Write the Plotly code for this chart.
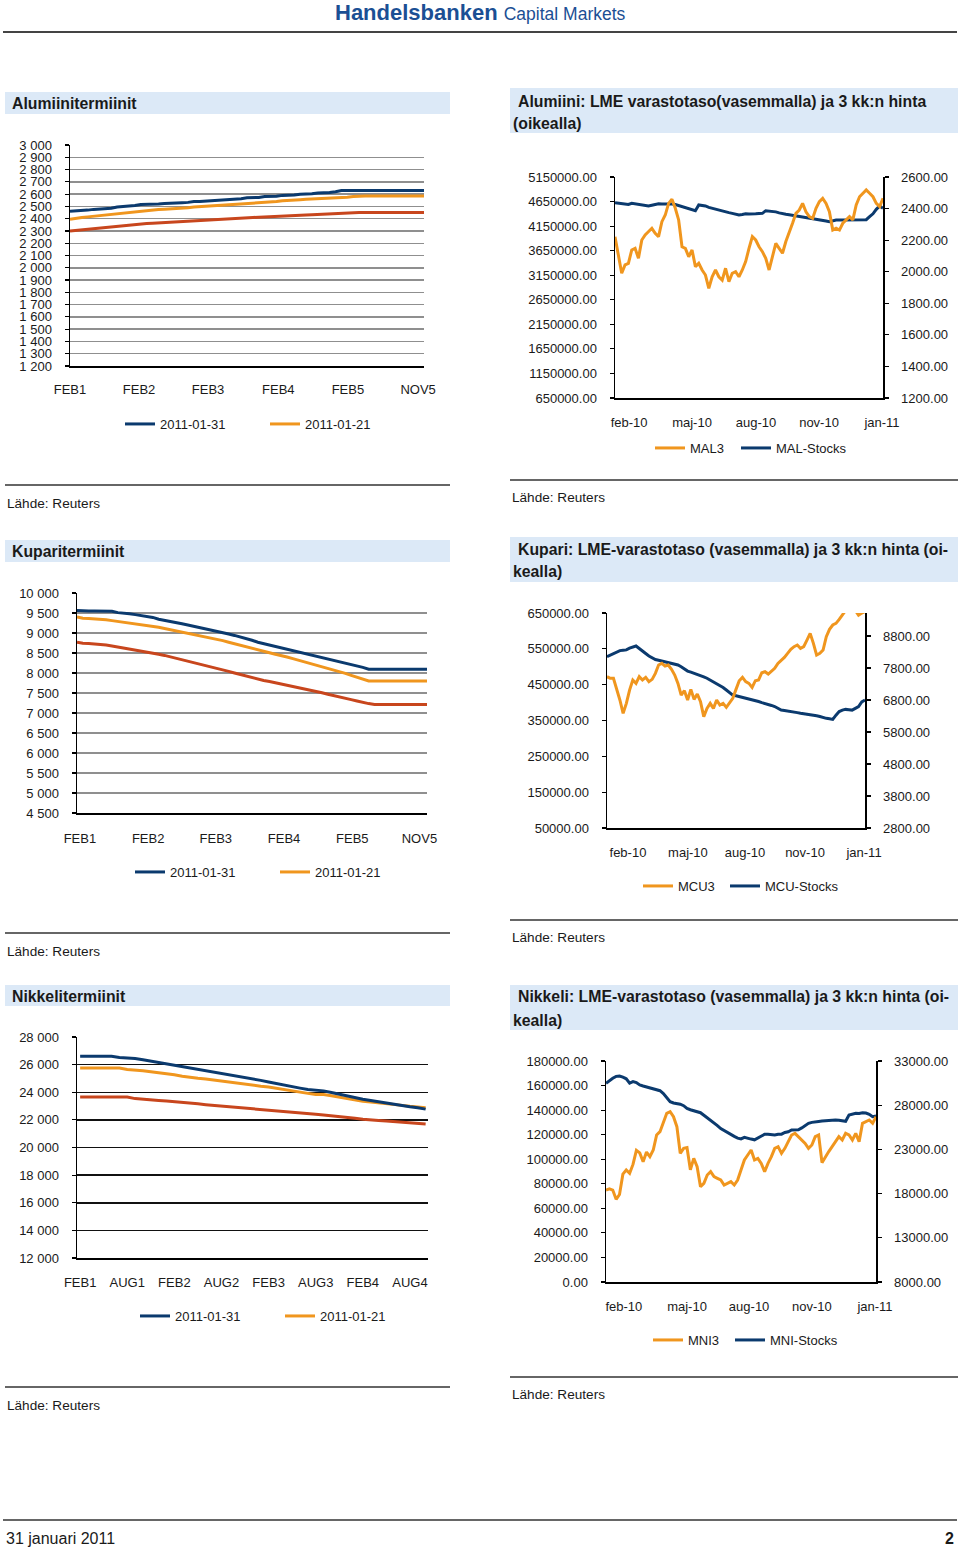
import plotly.graph_objects as go

W, H = 960, 1549
def px(x):
    return x / W
def py(y):
    return 1 - y / H

BLUE = "#0b3a6e"
ORANGE = "#f0961e"
RED = "#c8461d"
FONT = "Liberation Sans, Arial, sans-serif"

# ---------------- DATA ----------------
# Forward curves (contract index, labelled contracts)
fwd_labels = ["FEB1", "FEB2", "FEB3", "FEB4", "FEB5", "NOV5"]
al_label_idx = [0.0, 11.7, 23.4, 35.3, 47.1, 59.0]
cu_label_idx = [0.5, 12.2, 23.8, 35.5, 47.2, 58.7]

al_0131 = [2460, 2462, 2468, 2470, 2476, 2478, 2484, 2486, 2495, 2497, 2505, 2507, 2515, 2515, 2518, 2520,
           2524, 2524, 2530, 2530, 2533, 2540, 2540, 2543, 2550, 2550, 2553, 2560, 2560, 2563, 2570, 2570,
           2573, 2580, 2580, 2583, 2590, 2590, 2593, 2600, 2600, 2603, 2610, 2610, 2613, 2620, 2630, 2630,
           2630, 2630, 2630, 2630, 2630, 2630, 2630, 2630, 2630, 2630, 2630, 2630, 2630]
al_0121 = [2395, 2405, 2410, 2415, 2420, 2425, 2430, 2435, 2440, 2450, 2455, 2460, 2465, 2468, 2470, 2475,
           2478, 2480, 2485, 2488, 2490, 2495, 2498, 2500, 2503, 2505, 2510, 2513, 2515, 2520, 2523, 2525,
           2530, 2533, 2535, 2540, 2547, 2548, 2550, 2555, 2558, 2560, 2565, 2567, 2568, 2570, 2572, 2575,
           2580, 2585, 2585, 2585, 2585, 2585, 2585, 2585, 2585, 2585, 2585, 2585, 2585]
al_prev = [2300, 2305, 2310, 2315, 2320, 2325, 2330, 2335, 2340, 2345, 2350, 2352, 2357, 2360, 2362, 2365,
           2368, 2370, 2375, 2378, 2380, 2385, 2388, 2390, 2395, 2396, 2398, 2400, 2402, 2405, 2408, 2410,
           2412, 2415, 2417, 2420, 2422, 2424, 2426, 2428, 2430, 2432, 2435, 2437, 2440, 2442, 2445, 2450,
           2450, 2450, 2450, 2450, 2450, 2450, 2450, 2450, 2450, 2450, 2450, 2450, 2450]

cu_0131 = [9560, 9550, 9550, 9550, 9550, 9550, 9545, 9510, 9500, 9480, 9460, 9440, 9420, 9390, 9345, 9320,
           9290, 9260, 9230, 9200, 9170, 9140, 9110, 9075, 9040, 9010, 8975, 8940, 8905, 8870, 8820, 8770,
           8735, 8700, 8670, 8640, 8610, 8575, 8540, 8500, 8465, 8430, 8395, 8360, 8320, 8290, 8255, 8220,
           8180, 8140, 8095, 8095, 8095, 8095, 8095, 8095, 8095, 8095, 8095, 8095, 8095]
cu_0121 = [9400, 9370, 9360, 9355, 9350, 9330, 9310, 9290, 9270, 9250, 9240, 9220, 9195, 9170, 9142, 9115,
           9085, 9055, 9025, 8995, 8970, 8940, 8910, 8883, 8850, 8810, 8770, 8730, 8690, 8650, 8610, 8575,
           8540, 8505, 8470, 8440, 8400, 8360, 8320, 8280, 8242, 8200, 8160, 8120, 8080, 8040, 7990, 7940,
           7890, 7845, 7800, 7800, 7800, 7800, 7800, 7800, 7800, 7800, 7800, 7800, 7800]
cu_prev = [8770, 8745, 8740, 8730, 8710, 8700, 8675, 8650, 8630, 8600, 8580, 8560, 8525, 8495, 8467, 8440,
           8405, 8370, 8335, 8300, 8265, 8230, 8195, 8158, 8120, 8080, 8040, 8000, 7960, 7920, 7880, 7842,
           7815, 7790, 7760, 7730, 7700, 7670, 7640, 7605, 7575, 7540, 7505, 7470, 7440, 7410, 7370, 7335,
           7300, 7265, 7235, 7215, 7215, 7215, 7215, 7215, 7215, 7215, 7215, 7215, 7215]

ni_labels = ["FEB1", "AUG1", "FEB2", "AUG2", "FEB3", "AUG3", "FEB4", "AUG4"]
ni_label_idx = [0, 6, 12, 18, 24, 30, 36, 42]
ni_0131 = [26600, 26600, 26600, 26600, 26600, 26520, 26480, 26450, 26350, 26250, 26150, 26050, 25960, 25860,
           25760, 25680, 25600, 25500, 25400, 25300, 25200, 25080, 24970, 24860, 24740, 24620, 24510, 24400,
           24300, 24200, 24150, 24100, 23980, 23850, 23730, 23620, 23500, 23400, 23300, 23220, 23150, 23050,
           22950, 22880, 22780]
ni_0121 = [25750, 25750, 25750, 25750, 25750, 25750, 25650, 25620, 25550, 25480, 25420, 25370, 25270, 25160,
           25060, 25010, 24960, 24880, 24800, 24740, 24660, 24590, 24510, 24440, 24380, 24280, 24190, 24100,
           24010, 23920, 23840, 23830, 23740, 23640, 23530, 23440, 23340, 23300, 23250, 23150, 23100, 23050,
           22980, 22930, 22880]
ni_prev = [23650, 23650, 23650, 23650, 23650, 23650, 23650, 23540, 23510, 23440, 23410, 23360, 23320, 23260,
           23200, 23160, 23100, 23050, 23000, 22950, 22900, 22830, 22760, 22700, 22660, 22620, 22560, 22500,
           22480, 22440, 22400, 22360, 22300, 22260, 22220, 22120, 22040, 21980, 21960, 21920, 21870, 21820,
           21800, 21770, 21700]

# LME time series (feb-10 .. jan-11, sampled)
ts_labels = ["feb-10", "maj-10", "aug-10", "nov-10", "jan-11"]
mal_tick_idx = [4.2, 23.0, 42.1, 60.9, 79.7]
mcu_tick_idx = [6.5, 25.1, 42.8, 61.4, 79.7]
mni_tick_idx = [5.3, 24.0, 42.4, 61.0, 79.7]

mal3 = [2222, 2095, 1990, 2043, 2053, 2138, 2148, 2085, 2201, 2233, 2254, 2275, 2243, 2222, 2317, 2359,
        2433, 2459, 2402, 2328, 2158, 2148, 2095, 2138, 2032, 2053, 2011, 1979, 1895, 1968, 2011, 1968,
        1947, 2022, 1937, 1990, 2000, 1968, 2011, 2064, 2148, 2222, 2201, 2158, 2127, 2085, 2011, 2095,
        2180, 2148, 2117, 2191, 2243, 2307, 2370, 2391, 2433, 2380, 2349, 2338, 2402, 2444, 2465, 2433,
        2380, 2264, 2275, 2264, 2307, 2328, 2349, 2328, 2423, 2475, 2497, 2518, 2497, 2475, 2433, 2412, 2465]
mal_stocks = [4627000, 4620000, 4615000, 4600000, 4590000, 4614000, 4605000, 4595000, 4580000, 4570000,
              4560000, 4575000, 4590000, 4605000, 4600000, 4600000, 4610000, 4600000, 4590000, 4570000,
              4546000, 4530000, 4510000, 4490000, 4464000, 4580000, 4575000, 4560000, 4530000, 4510000,
              4492000, 4475000, 4460000, 4440000, 4425000, 4410000, 4390000, 4376000, 4385000, 4400000,
              4397000, 4392000, 4400000, 4405000, 4410000, 4464000, 4460000, 4450000, 4440000, 4420000,
              4397000, 4390000, 4380000, 4370000, 4355000, 4342000, 4330000, 4320000, 4310000, 4300000,
              4295000, 4285000, 4270000, 4255000, 4240000, 4265000, 4275000, 4275000, 4275000, 4275000,
              4275000, 4275000, 4275000, 4275000, 4275000, 4280000, 4342000, 4400000, 4492000, 4560000, 4513000]

mcu3 = [7529, 7477, 7477, 7165, 6800, 6383, 6696, 7112, 7425, 7321, 7529, 7425, 7508, 7373, 7446, 7633,
        7894, 7946, 7862, 7894, 7758, 7581, 7321, 6956, 7092, 6800, 7133, 6821, 6987, 6748, 6279, 6540,
        6696, 6540, 6800, 6644, 6696, 6571, 6717, 6852, 7133, 7404, 7508, 7373, 7321, 7196, 7404, 7425,
        7654, 7685, 7612, 7717, 7789, 7946, 8029, 8133, 8258, 8383, 8467, 8519, 8415, 8467, 8675, 8883,
        8571, 8206, 8258, 8362, 8779, 9008, 9144, 9196, 9321, 9456, 9600, 9580, 9620, 9600, 9450, 9520, 9560]
mcu_stocks = [528000, 532000, 537000, 541000, 545000, 546000, 547000, 552000, 556000, 558000, 551000, 545000,
              537000, 530000, 524000, 520000, 518000, 516000, 514000, 513000, 511000, 509000, 505000, 500000,
              494000, 488000, 485000, 482000, 479000, 477000, 472000, 468000, 463000, 458000, 454000, 449000,
              442000, 435000, 428000, 421000, 419000, 417000, 414000, 412000, 410000, 407000, 405000, 403000,
              400000, 398000, 396000, 392000, 389000, 384000, 379000, 378000, 377000, 376000, 375000, 372000,
              370000, 369000, 368000, 367000, 365000, 363000, 361000, 358000, 356000, 355000, 353000, 365000,
              375000, 379000, 381000, 380000, 379000, 384000, 389000, 402000, 407000]

mni3 = [18407, 18550, 18400, 17350, 17900, 20200, 20669, 20300, 21300, 22900, 22600, 21600, 22700, 22177,
        22931, 24628, 25005, 25948, 27079, 27268, 26702, 25571, 22554, 23120, 23200, 20700, 21988, 21046,
        18783, 19160, 20103, 20480, 19914, 19726, 19537, 18972, 19160, 19349, 18972, 19537, 20669, 21800,
        22366, 22931, 21800, 21988, 21423, 20480, 21423, 22177, 23120, 23308, 22554, 23120, 23874, 24628,
        24817, 24440, 24063, 23686, 23120, 23497, 24440, 24628, 21500, 22177, 22754, 23308, 23874, 24440,
        24063, 24817, 24628, 24063, 24817, 23874, 25948, 26137, 26325, 25948, 26702]
mni_stocks = [161800, 164000, 166000, 167500, 167800, 166800, 165500, 162000, 163200, 162400, 160500, 159600,
              158900, 158400, 157300, 156600, 155800, 153500, 150500, 146900, 145800, 145300, 144800, 143600,
              141400, 140300, 139500, 138800, 137900, 135800, 133800, 131800, 129600, 127400, 124900, 123200,
              121500, 120200, 118600, 117200, 116500, 117800, 116800, 116400, 115800, 117500, 118900, 120300,
              120400, 119900, 119700, 120300, 120400, 121800, 122400, 123800, 123800, 124000, 125500, 127600,
              129200, 130000, 130600, 130800, 131100, 131300, 131900, 131800, 131900, 131700, 131400, 130900,
              136000, 137000, 137400, 137200, 137900, 137600, 136600, 134700, 135200]

# ---------------- FIGURE ----------------
fig = go.Figure()

def add_line(x, y, color, name, xa, ya, legend, showlegend=True, rank=1, lw=None):
    fig.add_trace(go.Scatter(x=x, y=y, mode="lines", name=name,
                             line=dict(color=color, width=3),
                             xaxis=xa, yaxis=ya, legend=legend,
                             showlegend=showlegend, legendrank=rank, legendwidth=lw,
                             hoverinfo="skip"))

def lw_of(spacing):
    return spacing - 45

# Chart A - aluminium forwards
ia = list(range(len(al_0131)))
add_line(ia, al_prev, RED, "tidigare", "x", "y", "legend", False)
add_line(ia, al_0121, ORANGE, "2011-01-21", "x", "y", "legend", True, 2, 100)
add_line(ia, al_0131, BLUE, "2011-01-31", "x", "y", "legend", True, 1, lw_of(145))
# Chart B - aluminium LME
it = list(range(len(mal3)))
add_line(it, mal3, ORANGE, "MAL3", "x2", "y3", "legend2", True, 1, lw_of(86))
add_line(it, mal_stocks, BLUE, "MAL-Stocks", "x2", "y2", "legend2", True, 2, 100)
# Chart C - copper forwards
ic = list(range(len(cu_0131)))
add_line(ic, cu_prev, RED, "tidigare", "x3", "y4", "legend3", False)
add_line(ic, cu_0121, ORANGE, "2011-01-21", "x3", "y4", "legend3", True, 2, 100)
add_line(ic, cu_0131, BLUE, "2011-01-31", "x3", "y4", "legend3", True, 1, lw_of(145))
# Chart D - copper LME
add_line(it, mcu3, ORANGE, "MCU3", "x4", "y6", "legend4", True, 1, lw_of(87))
add_line(it, mcu_stocks, BLUE, "MCU-Stocks", "x4", "y5", "legend4", True, 2, 100)
# Chart E - nickel forwards
inn = list(range(len(ni_0131)))
add_line(inn, ni_prev, RED, "tidigare", "x5", "y7", "legend5", False)
add_line(inn, ni_0121, ORANGE, "2011-01-21", "x5", "y7", "legend5", True, 2, 100)
add_line(inn, ni_0131, BLUE, "2011-01-31", "x5", "y7", "legend5", True, 1, lw_of(145))
# Chart F - nickel LME
add_line(it, mni3, ORANGE, "MNI3", "x6", "y9", "legend6", True, 1, lw_of(82))
add_line(it, mni_stocks, BLUE, "MNI-Stocks", "x6", "y8", "legend6", True, 2, 100)

tickfont = dict(family=FONT, size=13, color="#1a1a1a")

def xax(x0, x1, anchor, rng, tv, tt, standoff=12):
    return dict(domain=[px(x0), px(x1)], anchor=anchor, range=rng, tickvals=tv, ticktext=tt,
                showline=True, linecolor="black", linewidth=1.5, ticks="", showgrid=False,
                zeroline=False, tickfont=tickfont, ticklabelstandoff=standoff, fixedrange=True,
                automargin=False)

def yax(y0, y1, anchor, rng, tick0, dtick, fmt, grid=None, side="left", overlay=None):
    d = dict(anchor=anchor, range=rng, tick0=tick0, dtick=dtick, tickformat=fmt,
             showline=True, linecolor="black", linewidth=1.5, ticks="outside", ticklen=4,
             tickcolor="black", tickwidth=1.2, zeroline=False, tickfont=tickfont, side=side,
             ticklabelstandoff=10, fixedrange=True, automargin=False)
    if overlay:
        d["overlaying"] = overlay
    else:
        d["domain"] = [py(y1), py(y0)]
    if grid:
        d.update(showgrid=True, gridcolor=grid, gridwidth=1.5)
    else:
        d["showgrid"] = False
    return d

layout = dict(
    width=W, height=H, margin=dict(l=0, r=0, t=0, b=0, pad=0, autoexpand=False),
    paper_bgcolor="white", plot_bgcolor="rgba(0,0,0,0)",
    separators=". ", font=dict(family=FONT, color="#1a1a1a"),
    # A
    xaxis=xax(70, 424, "y", [0, 60], al_label_idx, fwd_labels, 11),
    yaxis=yax(145, 366, "x", [1200, 3000.5], 1200, 100, ",d", grid="#8f8f8f"),
    # B
    xaxis2=xax(615, 883, "y2", [0, 80], mal_tick_idx, ts_labels, 12),
    yaxis2=yax(177, 398, "x2", [650000, 5150000], 650000, 500000, ".2f"),
    yaxis3=yax(177, 398, "x2", [1200, 2600], 1200, 200, ".2f", side="right", overlay="y2"),
    # C
    xaxis3=xax(77, 427, "y4", [0, 60], cu_label_idx, fwd_labels, 13),
    yaxis4=yax(593, 813, "x3", [4500, 10000.5], 4500, 500, ",d", grid="#8f8f8f"),
    # D
    xaxis4=xax(607, 865, "y5", [0, 80], mcu_tick_idx, ts_labels, 12),
    yaxis5=yax(613, 828, "x4", [50000, 650000], 50000, 100000, ".2f"),
    yaxis6=yax(613, 828, "x4", [2800, 9520], 2800, 1000, ".2f", side="right", overlay="y5"),
    # E
    xaxis5=xax(77, 428, "y7", [-0.4, 44.3], ni_label_idx, ni_labels, 12),
    yaxis7=yax(1037, 1258, "x5", [12000, 28000.5], 12000, 2000, ",d", grid="#111111"),
    # F
    xaxis6=xax(606, 876, "y8", [0, 80], mni_tick_idx, ts_labels, 12),
    yaxis8=yax(1061, 1282, "x6", [0, 180000], 0, 20000, ".2f"),
    yaxis9=yax(1061, 1282, "x6", [8000, 33000], 8000, 5000, ".2f", side="right", overlay="y8"),
)

def leg(x_text_left, y_center):
    return dict(orientation="h", x=px(x_text_left - 40), y=py(y_center), xanchor="left",
                yanchor="middle", bgcolor="rgba(0,0,0,0)", borderwidth=0,
                font=dict(family=FONT, size=13, color="#1a1a1a"),
                traceorder="normal", itemclick=False, itemdoubleclick=False)

layout["legend"] = leg(160, 424)
layout["legend2"] = leg(690, 448)
layout["legend3"] = leg(170, 872)
layout["legend4"] = leg(678, 886)
layout["legend5"] = leg(175, 1316)
layout["legend6"] = leg(688, 1340)

fig.update_layout(**layout)

shapes = []
annotations = []

def rule(x0, x1, y, width=1.5, color="#333333"):
    shapes.append(dict(type="line", xref="paper", yref="paper", x0=px(x0), x1=px(x1),
                       y0=py(y), y1=py(y), line=dict(color=color, width=width)))

def box(x0, x1, y0, y1):
    shapes.append(dict(type="rect", xref="paper", yref="paper", x0=px(x0), x1=px(x1),
                       y0=py(y1), y1=py(y0), fillcolor="#dce9f7", line=dict(width=0), layer="below"))

def text(x, y, s, size=13, bold=False, anchor="left", color="#1a1a1a"):
    annotations.append(dict(xref="paper", yref="paper", x=px(x), y=py(y), xanchor=anchor,
                            yanchor="middle", showarrow=False,
                            text=("<b>%s</b>" % s) if bold else s,
                            font=dict(family=FONT, size=size, color=color)))

# header
annotations.append(dict(xref="paper", yref="paper", x=px(480), y=py(13), xanchor="center",
                        yanchor="middle", showarrow=False,
                        text="<b>Handelsbanken</b> <span style='font-size:17.5px'>Capital Markets</span>",
                        font=dict(family=FONT, size=22, color="#1b4f94")))
rule(3, 957, 32, width=2, color="#444444")

TS = 15.8
# title boxes
box(5, 450, 92, 114)
text(10, 104, "Alumiinitermiinit", TS, True)
box(510, 958, 88, 133)
text(516, 101, "Alumiini: LME varastotaso(vasemmalla) ja 3 kk:n hinta", TS, True)
text(511, 124, "(oikealla)", TS, True)

box(5, 450, 540, 562)
text(10, 552, "Kuparitermiinit", TS, True)
box(510, 958, 537, 582)
text(516, 549, "Kupari: LME-varastotaso (vasemmalla) ja 3 kk:n hinta (oi-", TS, True)
text(511, 572, "kealla)", TS, True)

box(5, 450, 985, 1006)
text(10, 996, "Nikkelitermiinit", TS, True)
box(510, 958, 985, 1030)
text(516, 997, "Nikkeli: LME-varastotaso (vasemmalla) ja 3 kk:n hinta (oi-", TS, True)
text(511, 1020, "kealla)", TS, True)

# source lines
for (x0, x1, yl, yt) in [(5, 450, 485, 503), (510, 958, 480, 498),
                          (5, 450, 933, 951), (510, 958, 920, 938),
                          (5, 450, 1387, 1405), (510, 958, 1377, 1394)]:
    rule(x0, x1, yl, width=1.3)
    text(x0, yt, "Lähde: Reuters", 13.6)

# footer
rule(3, 957, 1520, width=1.5)
text(4, 1538, "31 januari 2011", 16)
text(956, 1538, "2", 16, True, anchor="right")

fig.update_layout(shapes=shapes, annotations=annotations)

fig.write_html("out.html", config={"displayModeBar": False, "staticPlot": True},
               post_script="document.body.style.margin='0';")
